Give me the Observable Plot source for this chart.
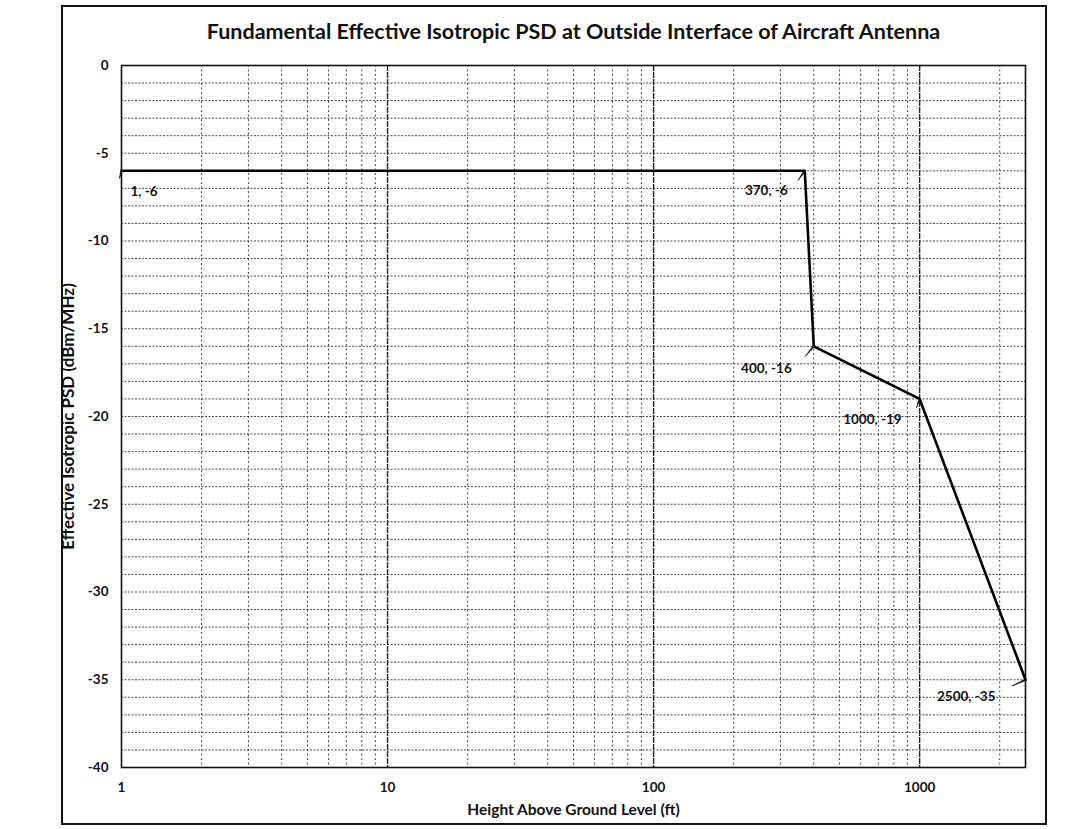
<!DOCTYPE html>
<html>
<head>
<meta charset="utf-8">
<script src="https://cdn.jsdelivr.net/npm/d3@7"></script>
<script src="https://cdn.jsdelivr.net/npm/@observablehq/plot@0.6"></script>
<style>
  html, body { margin: 0; padding: 0; background: #fff; }
  #wrap { position: relative; width: 1089px; height: 829px; overflow: hidden; }
  #border { position: absolute; left: 61px; top: 5px; width: 986px; height: 820px; border: 2px solid #111; box-sizing: border-box; pointer-events: none; }
  #wrap svg { position: absolute; left: 0; top: 0; }
</style>
</head>
<body>
<div id="wrap"><div id="border"></div></div>
<script>
// ---- data ----
const heights = [1, 370, 400, 1000, 2500];          // ft
const psd     = [-6, -6, -16, -19, -35];              // dBm/MHz
const pointLabels = ["1, -6", "370, -6", "400, -16", "1000, -19", "2500, -35"];
const xTickValues = [1, 10, 100, 1000];
const yTickValues = [0, -5, -10, -15, -20, -25, -30, -35, -40];
const titleText = "Fundamental Effective Isotropic PSD at Outside Interface of Aircraft Antenna";
const xTitle = "Height Above Ground Level (ft)";
const yTitle = "Effective Isotropic PSD (dBm/MHz)";

const pts = heights.map((h, i) => ({x: h, y: psd[i], label: pointLabels[i]}));

// label placement (px offsets) relative to each point
const labelStyle = [
  {dx: 9, dy: 21, anchor: "start", lr: 195, ll: 12},
  {dx: -17, dy: 20, anchor: "end", lr: 215, ll: 18},
  {dx: -22, dy: 22, anchor: "end", lr: 220, ll: 20},
  {dx: -18, dy: 21, anchor: "end", lr: 200, ll: 14},
  {dx: -30, dy: 17, anchor: "end", lr: 245, ll: 22}
];
pts.forEach((p, i) => Object.assign(p, labelStyle[i]));

// grid lines
const minorX = [];
for (const dec of [1, 10, 100, 1000]) for (let k = 2; k <= 9; k++) if (dec * k <= 2500) minorX.push(dec * k);
const majorX = [10, 100, 1000];
const gridY = d3.range(-39, 0, 1);

const font = "Lato, 'Open Sans', 'DejaVu Sans', sans-serif";

const labelMarks = pts.map(p => Plot.text([p], {
  x: "x", y: "y", text: "label", dx: p.dx, dy: p.dy,
  textAnchor: p.anchor, fontSize: 13.5, fontWeight: "bold", fill: "#111"
}));

const chart = Plot.plot({
  width: 1089,
  height: 829,
  marginLeft: 121,
  marginRight: 64,
  marginTop: 65,
  marginBottom: 62,
  style: {fontFamily: font, fontSize: "13px", fontWeight: "bold", color: "#111", background: "transparent"},
  x: {type: "log", domain: [1, 2500]},
  y: {domain: [-40, 0]},
  marks: [
    Plot.ruleY(gridY, {stroke: "#333", strokeWidth: 0.9, strokeDasharray: "2,1.5"}),
    Plot.ruleX(minorX, {stroke: "#333", strokeWidth: 0.9, strokeDasharray: "2,2.5"}),
    Plot.ruleX(majorX, {stroke: "#222", strokeWidth: 1.4, strokeDasharray: "6,1"}),
    Plot.frame({stroke: "#111", strokeWidth: 1.6}),
    Plot.axisX({ticks: xTickValues, tickSize: 0, tickPadding: 15, tickFormat: d => String(d), fontSize: 13.5, fontWeight: "bold", label: null}),
    Plot.axisY({ticks: yTickValues, tickSize: 0, tickPadding: 13, tickFormat: d => String(d), fontSize: 13.5, fontWeight: "bold", label: null}),
    Plot.line(pts, {x: "x", y: "y", stroke: "#000", strokeWidth: 2.6}),
    Plot.vector(pts, {x: "x", y: "y", rotate: "lr", length: "ll", anchor: "start", shape: "spike", r: 0.8, fill: "#111", stroke: "#111", strokeWidth: 0.6}),
    ...labelMarks,
    Plot.text([titleText], {frameAnchor: "top", dy: -42, text: d => d, fontSize: 21.5, fontWeight: "bold", fill: "#111"}),
    Plot.text([xTitle], {frameAnchor: "bottom", dy: 47, text: d => d, fontSize: 15.5, fontWeight: "bold", fill: "#111"}),
    Plot.text([yTitle], {frameAnchor: "left", textAnchor: "middle", dx: -53, rotate: -90, text: d => d, fontSize: 17, fontWeight: "bold", fill: "#111"})
  ]
});
document.getElementById("wrap").appendChild(chart);
</script>
</body>
</html>
